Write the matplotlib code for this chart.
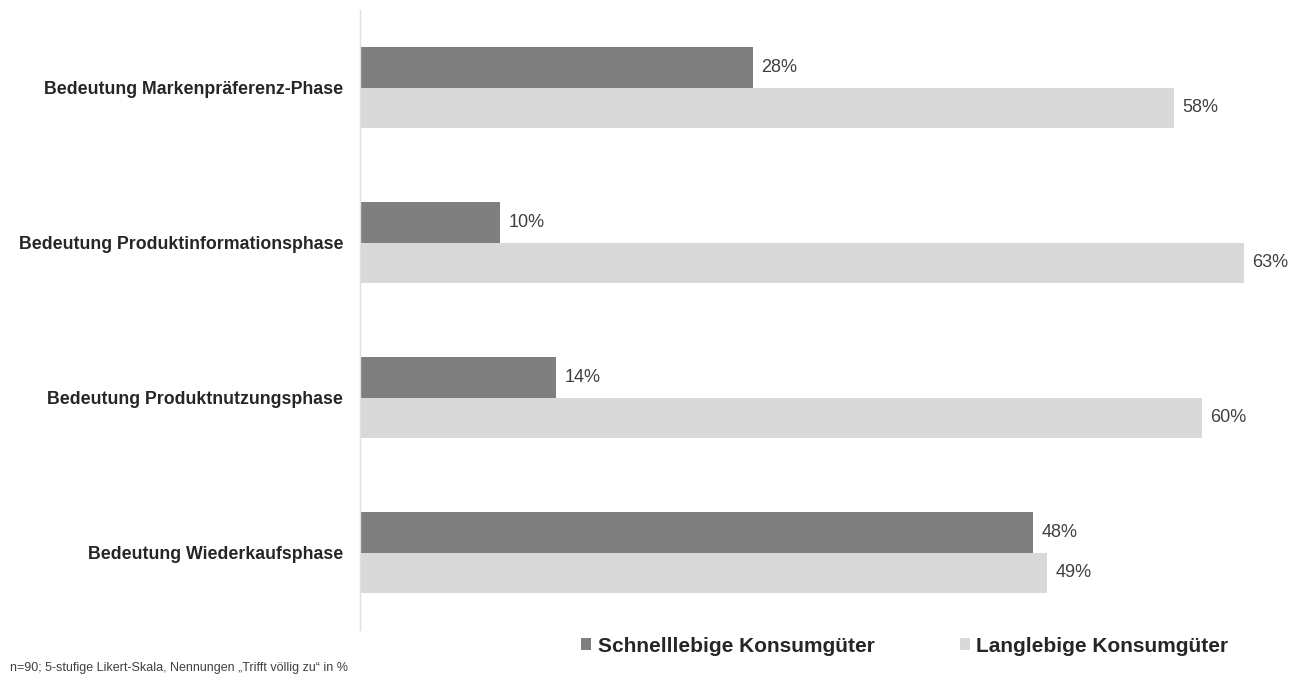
import matplotlib.pyplot as plt
import numpy as np

# Daten
kategorien = ['Bedeutung Markenpräferenz-Phase',
              'Bedeutung Produktinformationsphase',
              'Bedeutung Produktnutzungsphase',
              'Bedeutung Wiederkaufsphase']
schnelllebig = [28, 10, 14, 48]
langlebig = [58, 63, 60, 49]
serien = ['Schnelllebige Konsumgüter', 'Langlebige Konsumgüter']
fussnote = 'n=90; 5-stufige Likert-Skala, Nennungen \u201eTrifft völlig zu\u201c in %'

plt.rcParams['font.family'] = ['Liberation Sans', 'DejaVu Sans']

fig = plt.figure(figsize=(13, 6.8), dpi=100)
# Achse beginnt bei x=360 px, ca. 14 px pro Prozentpunkt
ax = fig.add_axes([360 / 1300, 1 - 630 / 680, 940 / 1300, 620 / 680])

y = np.arange(len(kategorien))
h = 0.264
farbe_dunkel = '#7f7f7f'
farbe_hell = '#d9d9d9'

ax.barh(y - h / 2, schnelllebig, height=h, color=farbe_dunkel, label=serien[0])
ax.barh(y + h / 2, langlebig, height=h, color=farbe_hell, label=serien[1])

# Werte-Beschriftungen
for i in range(len(kategorien)):
    ax.annotate(f'{schnelllebig[i]}%', (schnelllebig[i], y[i] - h / 2),
                xytext=(6, 0), textcoords='offset points', va='center',
                fontsize=13, color='#404040')
    ax.annotate(f'{langlebig[i]}%', (langlebig[i], y[i] + h / 2),
                xytext=(6, 0), textcoords='offset points', va='center',
                fontsize=13, color='#404040')

ax.set_xlim(0, 940 / 14.03)
ax.set_ylim(3.5, -0.5)
ax.set_yticks(y)
ax.set_yticklabels(kategorien, fontsize=12.8, fontweight='bold', color='#262626')
ax.tick_params(axis='y', length=0, pad=12)
ax.set_xticks([])
for s in ['top', 'right', 'bottom']:
    ax.spines[s].set_visible(False)
ax.spines['left'].set_color('#e0e0e0')
ax.spines['left'].set_linewidth(1)

# Legende
leg = fig.legend(loc='center left', bbox_to_anchor=(571 / 1300, 1 - 646 / 680),
                 ncol=2, frameon=False, borderpad=0, handlelength=0.48,
                 handleheight=0.48, handletextpad=0.3, columnspacing=4.1,
                 prop={'size': 15, 'weight': 'bold'})
for t in leg.get_texts():
    t.set_color('#262626')

fig.text(10 / 1300, 1 - 668 / 680, fussnote, fontsize=9, color='#404040', va='center')

fig.savefig('out.png', dpi=100)
